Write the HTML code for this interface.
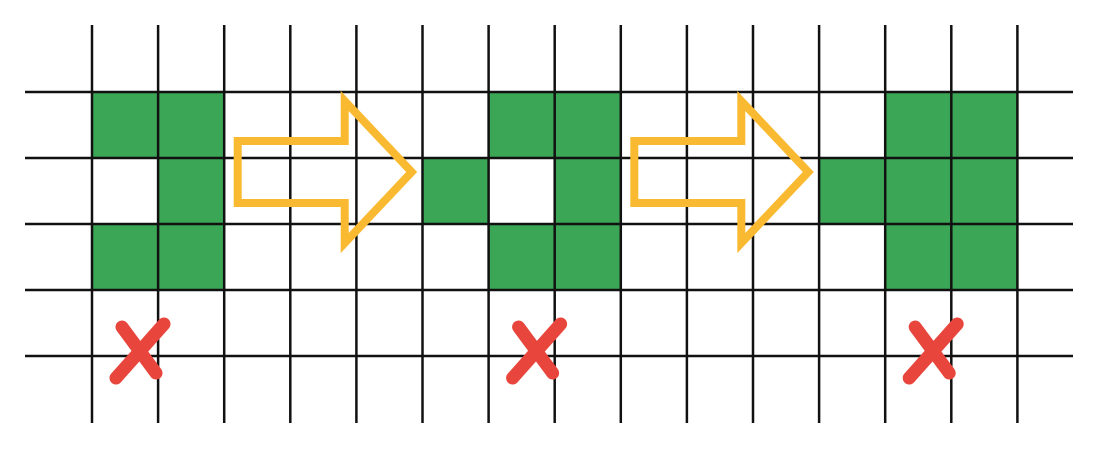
<!DOCTYPE html>
<html><head><meta charset="utf-8"><style>
html,body{margin:0;padding:0;background:#fff;width:1108px;height:456px;overflow:hidden}
svg{display:block}
</style></head><body>
<svg id="chart" width="1108" height="456" viewBox="0 0 1108 456" xmlns="http://www.w3.org/2000/svg"></svg>
<script>
// data: filled cells as [col,row]
const cells1 = [[0,0],[1,0],[1,1],[0,2],[1,2]];
const cells2 = [[6,0],[7,0],[5,1],[7,1],[6,2],[7,2]];
const cells3 = [[12,0],[13,0],[11,1],[12,1],[13,1],[12,2],[13,2]];
const arrowCols = [2, 8];
const crossCols = [0, 6, 12];

const NS = 'http://www.w3.org/2000/svg';
const svg = document.getElementById('chart');
const x0 = 92, y0 = 92, cw = 66.1, ch = 66;
const nCols = 15, nRows = 5;
const colX = c => x0 + c * cw;
const rowY = r => y0 + r * ch;
function mk(tag, attrs, parent) {
  const e = document.createElementNS(NS, tag);
  for (const k in attrs) e.setAttribute(k, attrs[k]);
  (parent || svg).appendChild(e);
  return e;
}
[cells1, cells2, cells3].forEach((set, si) => {
  set.forEach(([c, r]) => {
    const el = mk('rect', {x: colX(c), y: rowY(r), width: cw, height: ch, fill: '#3BA655'});
    
    
  });
});
for (let c = 0; c < nCols; c++) {
  const el = mk('line', {x1: colX(c), x2: colX(c), y1: 25, y2: 423, stroke: '#111', 'stroke-width': 2.5});
  
  
}
for (let r = 0; r < nRows; r++) {
  const el = mk('line', {x1: 25, x2: 1073, y1: rowY(r), y2: rowY(r), stroke: '#111', 'stroke-width': 2.5});
  
  
}
arrowCols.forEach(c => {
  const bx = colX(c) + 13.5;
  const pts = [[bx,141],[bx+107,141],[bx+107,101],[bx+174,172],[bx+107,243],[bx+107,203],[bx,203]];
  const el = mk('polygon', {points: pts.map(p => p.join(',')).join(' '), fill: 'none', stroke: '#F9B931', 'stroke-width': 8, 'stroke-linejoin': 'miter'});
  
  
});
crossCols.forEach(c => {
  const cx = colX(c) + 47, cy = 351;
  const g = mk('g', {});
  
  
  mk('line', {x1: cx-17, y1: cy-24, x2: cx+17, y2: cy+22, stroke: '#E8463C', 'stroke-width': 13, 'stroke-linecap': 'round'}, g);
  mk('line', {x1: cx+25, y1: cy-27, x2: cx-23, y2: cy+27, stroke: '#E8463C', 'stroke-width': 13, 'stroke-linecap': 'round'}, g);
});
</script>
</body></html>
